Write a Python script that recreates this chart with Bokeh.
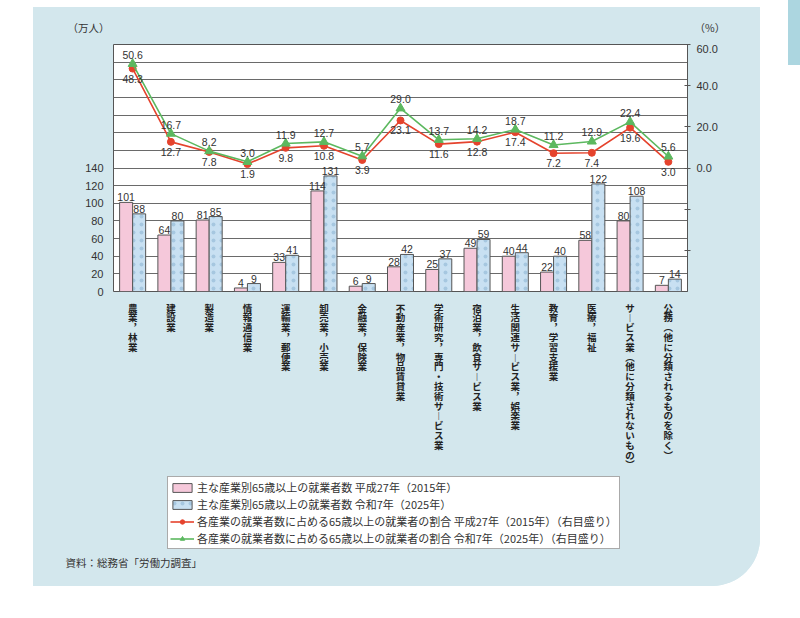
import numpy as np
from bokeh.plotting import figure
from bokeh.models import (Range1d, LinearAxis, FixedTicker, PrintfTickFormatter,
                          Legend, LegendItem, ColumnDataSource, Div, Title)
from bokeh.layouts import row, column
from bokeh.core.properties import value
from bokeh.embed import file_html
from bokeh.resources import INLINE

# ---- data -------------------------------------------------------------
categories = [
    "農業，林業", "建設業", "製造業", "情報通信業", "運輸業，郵便業",
    "卸売業，小売業", "金融業，保険業", "不動産業，物品賃貸業",
    "学術研究，専門・技術サービス業", "宿泊業，飲食サービス業",
    "生活関連サービス業，娯楽業", "教育，学習支援業", "医療，福祉",
    "サービス業（他に分類されないもの）", "公務（他に分類されるものを除く）",
]
workers_2015 = [101, 64, 81, 4, 33, 114, 6, 28, 25, 49, 40, 22, 58, 80, 7]
workers_2025 = [88, 80, 85, 9, 41, 131, 9, 42, 37, 59, 44, 40, 122, 108, 14]
share_2015 = [48.3, 12.7, 7.8, 1.9, 9.8, 10.8, 3.9, 23.1, 11.6, 12.8, 17.4, 7.2, 7.4, 19.6, 3.0]
share_2025 = [50.6, 16.7, 8.2, 3.0, 11.9, 12.7, 5.7, 29.0, 13.7, 14.2, 18.7, 11.2, 12.9, 22.4, 5.6]

left_ticks = [0, 20, 40, 60, 80, 100, 120, 140]
grid_ticks = list(range(0, 281, 20))
right_ticks = [-40, -20, 0, 20, 40, 60]
right_hidden = [-40, -20]

legend_labels = [
    "主な産業別65歳以上の就業者数 平成27年（2015年）",
    "主な産業別65歳以上の就業者数 令和7年（2025年）",
    "各産業の就業者数に占める65歳以上の就業者の割合 平成27年（2015年）（右目盛り）",
    "各産業の就業者数に占める65歳以上の就業者の割合 令和7年（2025年）（右目盛り）",
]
unit_left = "（万人）"
unit_right = "（%）"
source_note = "資料：総務省「労働力調査」"

# ---- styles -----------------------------------------------------------
PANEL = "#d3e7ed"
PINK = "#f5c8da"
BLUE = "#c8e0f2"
DOTS = "#a6c7e0"
RED = "#e5432d"
GREEN = "#5cb85f"
INK = "#333333"
FRAME = "#555555"
NUM_FONT = "Liberation Sans"
JP_FONT = "Noto Sans CJK JP"
PANEL_W = 727
BORDER_L, BORDER_R = 80, 73

# vertical-writing forms for stacked category names
VERTICAL_FORMS = {"，": "\ufe10", "（": "\ufe35", "）": "\ufe36", "ー": "\ufe31"}


def stack_vertical(s):
    return "\n".join(VERTICAL_FORMS.get(c, c) for c in s)


def quiet_axis(ax):
    ax.ticker = FixedTicker(ticks=[])
    ax.axis_line_color = None
    ax.major_tick_out = ax.major_tick_in = 0
    ax.minor_tick_out = ax.minor_tick_in = 0
    ax.major_label_standoff = 0


bar_style_15 = dict(fill_color=PINK, line_color=FRAME, line_width=1)
bar_style_25 = dict(fill_color=BLUE, line_color=FRAME, line_width=1,
                    hatch_pattern="dot", hatch_color=DOTS, hatch_scale=8, hatch_weight=1)
line_15 = dict(line_color=RED, line_width=1.6)
mark_15 = dict(marker="circle", size=7, fill_color=RED, line_color=RED)
line_25 = dict(line_color=GREEN, line_width=1.6)
mark_25 = dict(marker="triangle", size=9, fill_color=GREEN, line_color=GREEN)

x = np.arange(len(categories))
half = 0.17
src = ColumnDataSource(dict(
    x=x, x15=x - half, x25=x + half,
    w15=workers_2015, w25=workers_2025,
    s15=share_2015, s25=share_2025,
    lw15=[str(v) for v in workers_2015], lw25=[str(v) for v in workers_2025],
    ls15=[f"{v:.1f}" for v in share_2015], ls25=[f"{v:.1f}" for v in share_2025],
))
x_span = (-0.5, len(categories) - 0.5)

# ---- unit captions strip ----------------------------------------------
top = figure(width=PANEL_W, height=37, output_backend="svg", toolbar_location=None,
             x_range=Range1d(*x_span), y_range=Range1d(0, 1),
             min_border_left=BORDER_L, min_border_right=BORDER_R,
             min_border_top=3, min_border_bottom=0,
             background_fill_color=None, border_fill_color=PANEL, outline_line_color=None)
top.xaxis.visible = False
top.grid.visible = False
ly = top.yaxis[0]
quiet_axis(ly)
ly.axis_label = unit_left
ry = LinearAxis()
quiet_axis(ry)
ry.axis_label = unit_right
top.add_layout(ry, "right")
for ax, standoff in ((ly, 4), (ry, 7)):
    ax.axis_label_orientation = "horizontal"
    ax.axis_label_standoff = standoff
    ax.axis_label_text_font = JP_FONT
    ax.axis_label_text_font_size = "10.5px"
    ax.axis_label_text_font_style = "normal"
    ax.axis_label_text_color = INK

# ---- main chart -------------------------------------------------------
p = figure(frame_width=PANEL_W - BORDER_L - BORDER_R, frame_height=247,
           output_backend="svg", toolbar_location=None,
           x_range=Range1d(*x_span), y_range=Range1d(0, 280),
           min_border_left=BORDER_L, min_border_right=BORDER_R,
           min_border_top=0, min_border_bottom=182,
           background_fill_color="white", border_fill_color=PANEL,
           outline_line_color=FRAME, outline_line_width=1)
p.extra_y_ranges = {"pct": Range1d(-60, 60)}

p.xgrid.visible = False
p.ygrid.ticker = FixedTicker(ticks=grid_ticks)
p.ygrid.grid_line_color = "#6a6a6a"
p.ygrid.grid_line_width = 1

# left axis (persons)
ya = p.yaxis[0]
ya.ticker = FixedTicker(ticks=left_ticks)
ya.axis_line_color = None
ya.major_tick_out = ya.major_tick_in = 0
ya.minor_tick_out = ya.minor_tick_in = 0
ya.major_label_standoff = 10
ya.major_label_text_font = NUM_FONT
ya.major_label_text_font_size = "11px"
ya.major_label_text_color = INK

# right axis (share, %)
ra = LinearAxis(y_range_name="pct", ticker=FixedTicker(ticks=right_ticks),
                formatter=PrintfTickFormatter(format="%.1f"),
                major_label_overrides={v: "" for v in right_hidden})
ra.axis_line_color = FRAME
ra.major_tick_line_color = FRAME
ra.major_tick_in = 3
ra.major_tick_out = 3
ra.minor_tick_out = ra.minor_tick_in = 0
ra.major_label_standoff = 6
ra.major_label_text_font = NUM_FONT
ra.major_label_text_font_size = "11px"
ra.major_label_text_color = INK
p.add_layout(ra, "right")

# category axis with stacked vertical names
xa = p.xaxis[0]
xa.ticker = FixedTicker(ticks=list(x))
xa.major_label_overrides = {int(i): stack_vertical(c) for i, c in zip(x, categories)}
xa.axis_line_color = None
xa.major_tick_out = xa.major_tick_in = 0
xa.minor_tick_out = xa.minor_tick_in = 0
xa.major_label_standoff = 9
xa.major_label_text_font = JP_FONT
xa.major_label_text_font_size = "9.5px"
xa.major_label_text_font_style = "bold"
xa.major_label_text_line_height = 0.70
xa.major_label_text_color = "#222222"

# bars
p.vbar(x="x15", top="w15", width=2 * half, source=src, **bar_style_15)
p.vbar(x="x25", top="w25", width=2 * half, source=src, **bar_style_25)

num_style = dict(text_font_size="10.5px", text_color=INK, source=src,
                 text_font=value(NUM_FONT), text_align="center")
p.text(x="x15", y="w15", text="lw15", text_baseline="bottom", y_offset=-1, **num_style)
p.text(x="x25", y="w25", text="lw25", text_baseline="bottom", y_offset=-1, **num_style)

# share lines
p.line("x", "s15", source=src, y_range_name="pct", **line_15)
p.scatter("x", "s15", source=src, y_range_name="pct", **mark_15)
p.line("x", "s25", source=src, y_range_name="pct", **line_25)
p.scatter("x", "s25", source=src, y_range_name="pct", **mark_25)

p.text(x="x", y="s25", text="ls25", y_range_name="pct",
       text_baseline="bottom", y_offset=-5, **num_style)
p.text(x="x", y="s15", text="ls15", y_range_name="pct",
       text_baseline="top", y_offset=6, **num_style)

# ---- legend and source strip ------------------------------------------
# the key glyphs reuse the series; this strip's ranges keep them tucked
# underneath the opaque legend box, so only their swatches show
bottom = figure(width=PANEL_W, height=578 - 37 - 247 - 182, output_backend="svg",
                toolbar_location=None,
                x_range=Range1d(-2.8, 17.1), y_range=Range1d(-28, 157),
                min_border_left=BORDER_L, min_border_right=BORDER_R,
                min_border_top=0, min_border_bottom=33,
                background_fill_color=None, border_fill_color=PANEL, outline_line_color=None)
bottom.axis.visible = False
bottom.grid.visible = False
k15 = bottom.vbar(x="x15", top="w15", width=2 * half, source=src, **bar_style_15)
k25 = bottom.vbar(x="x25", top="w25", width=2 * half, source=src, **bar_style_25)
kl15 = bottom.line("x", "s15", source=src, **line_15)
km15 = bottom.scatter("x", "s15", source=src, **mark_15)
kl25 = bottom.line("x", "s25", source=src, **line_25)
km25 = bottom.scatter("x", "s25", source=src, **mark_25)

legend = Legend(items=[
    LegendItem(label=legend_labels[0], renderers=[k15]),
    LegendItem(label=legend_labels[1], renderers=[k25]),
    LegendItem(label=legend_labels[2], renderers=[kl15, km15]),
    LegendItem(label=legend_labels[3], renderers=[kl25, km25]),
], location=(54, 4), orientation="vertical",
    background_fill_color="white", background_fill_alpha=1.0,
    border_line_color=FRAME, border_line_width=1,
    label_text_font=JP_FONT, label_text_font_size="11px", label_text_color=INK,
    glyph_width=24, glyph_height=11, label_height=13, label_standoff=3,
    spacing=1, padding=2, margin=0)
bottom.add_layout(legend)

note = Title(text=source_note, align="left", offset=-48, standoff=0,
             vertical_align="middle", text_font=JP_FONT, text_font_size="10.5px",
             text_font_style="normal", text_color=INK)
bottom.add_layout(note, "below")

panel = column(top, p, bottom, spacing=0)
panel.margin = (7, 0, 0, 33)
panel.styles = {"background-color": PANEL, "border-bottom-right-radius": "48px",
                "overflow": "hidden"}

# page tab at the right edge
tab = Div(text="", width=12, height=65, margin=(0, 0, 0, 28),
          styles={"background-color": "#acd6e0"})

layout = row(panel, tab)
open("out.html", "w").write(file_html(layout, INLINE))
